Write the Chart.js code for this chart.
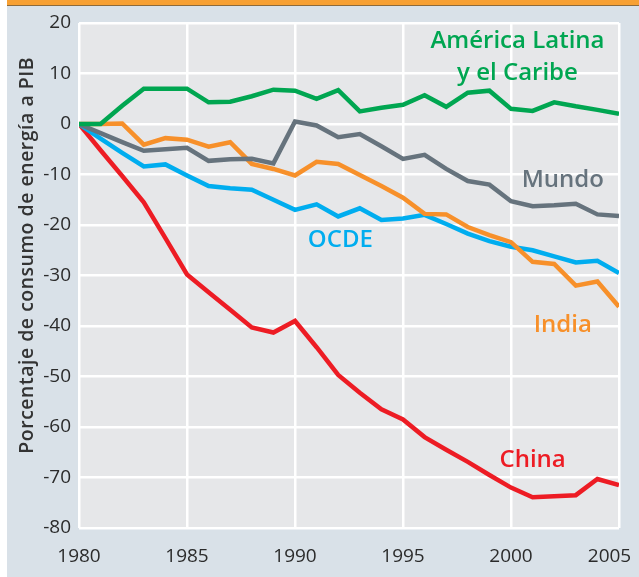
<!DOCTYPE html>
<html>
<head>
<meta charset="utf-8">
<script src="https://cdn.jsdelivr.net/npm/chart.js@4/dist/chart.umd.min.js"></script>
<style>
  body { margin: 0; background: #fff; }
  #wrap { width: 639px; height: 577px; }
</style>
</head>
<body>
<div id="wrap"><canvas id="chart" width="639" height="577"></canvas></div>
<script>
const years = [1980, 1981, 1982, 1983, 1984, 1985, 1986, 1987, 1988, 1989, 1990, 1991, 1992,
               1993, 1994, 1995, 1996, 1997, 1998, 1999, 2000, 2001, 2002, 2003, 2004, 2005];

const latam = [0, 0, 3.6, 7.0, 7.0, 7.0, 4.3, 4.4, 5.5, 6.8, 6.6, 5.0, 6.7,
               2.5, 3.2, 3.8, 5.7, 3.4, 6.2, 6.6, 3.0, 2.6, 4.3, 3.5, 2.8, 2.0];
const mundo = [0, -1.8, -3.6, -5.3, -5.0, -4.7, -7.3, -7.0, -6.9, -7.8, 0.5, -0.3, -2.6,
               -2.0, -4.4, -6.9, -6.1, -8.9, -11.3, -12.0, -15.3, -16.3, -16.1, -15.8, -17.9, -18.2];
const india = [0, 0, 0.1, -4.1, -2.8, -3.1, -4.5, -3.6, -7.9, -8.9, -10.2, -7.5, -7.9,
               -10.1, -12.3, -14.6, -17.8, -17.9, -20.4, -22.0, -23.4, -27.3, -27.7, -32.0, -31.2, -36.2];
const ocde = [0, -2.9, -5.7, -8.4, -8.0, -10.2, -12.3, -12.7, -13.0, -15.0, -17.0, -15.9, -18.3,
              -16.7, -19.0, -18.7, -18.0, -19.8, -21.7, -23.2, -24.3, -25.0, -26.2, -27.4, -27.1, -29.5];
const china = [0, -5.2, -10.3, -15.5, -22.6, -29.8, -33.3, -36.8, -40.3, -41.3, -39.0, -44.2, -49.7,
               -53.2, -56.5, -58.5, -62.0, -64.5, -66.9, -69.5, -72.0, -73.9, -73.7, -73.5, -70.3, -71.5];

const yTicks = [20, 10, 0, -10, -20, -30, -40, -50, -60, -70, -80];
const xTicks = [1980, 1985, 1990, 1995, 2000, 2005];

const yTitle = 'Porcentaje de consumo de energía a PIB';

// name labels, anchored in data units (year, value)
const seriesLabels = [
    { text: 'América Latina', year: 2000.3, value: 16.4, color: '#00a651' },
    { text: 'y el Caribe', year: 2000.3, value: 10.0, color: '#00a651' },
    { text: 'Mundo', year: 2002.4, value: -11.2, color: '#66737d' },
    { text: 'OCDE', year: 1992.1, value: -23.1, color: '#00adef' },
    { text: 'India', year: 2002.4, value: -39.9, color: '#f7902a' },
    { text: 'China', year: 2001.0, value: -66.5, color: '#ed1c24' }
];

const FONT = "'Open Sans', 'DejaVu Sans', sans-serif";

function pts(values) {
    return values.map(function (v, i) { return { x: years[i], y: v }; });
}

function line(label, values, color) {
    return {
        label: label,
        data: pts(values),
        borderColor: color,
        backgroundColor: color,
        borderWidth: 4.5,
        pointRadius: 0,
        tension: 0,
        borderJoinStyle: 'miter',
        borderCapStyle: 'butt'
    };
}

const backdrop = {
    id: 'backdrop',
    beforeDraw(chart) {
        const c = chart.ctx, a = chart.chartArea;
        c.save();
        c.fillStyle = '#ffffff';
        c.fillRect(0, 0, chart.width, chart.height);
        c.fillStyle = '#d9e1e8';
        c.fillRect(7, 6, chart.width - 7, chart.height - 6);
        c.fillStyle = '#f7a033';
        c.fillRect(7, 0, chart.width - 7, 5);
        c.fillStyle = '#8c6a3c';
        c.fillRect(7, 5, chart.width - 7, 1);
        c.fillStyle = '#e6e7e9';
        c.fillRect(a.left, a.top, a.right - a.left, a.bottom - a.top);
        c.restore();
    }
};

const textLayer = {
    id: 'textLayer',
    afterDatasetsDraw(chart) {
        const c = chart.ctx, sx = chart.scales.x, sy = chart.scales.y;
        c.save();
        c.textAlign = 'center';
        c.textBaseline = 'middle';
        c.font = '600 24px ' + FONT;
        seriesLabels.forEach(function (l) {
            c.fillStyle = l.color;
            c.fillText(l.text, sx.getPixelForValue(l.year), sy.getPixelForValue(l.value));
        });
        // y axis title
        c.translate(27, sy.getPixelForValue(-26));
        c.rotate(-Math.PI / 2);
        c.fillStyle = '#333333';
        c.font = '600 19.5px ' + FONT;
        c.letterSpacing = '0.5px';
        c.fillText(yTitle, 0, 0);
        c.restore();
    }
};

new Chart(document.getElementById('chart'), {
    type: 'line',
    data: {
        datasets: [
            line('América Latina y el Caribe', latam, '#00a651'),
            line('Mundo', mundo, '#66737d'),
            line('India', india, '#f7902a'),
            line('OCDE', ocde, '#00adef'),
            line('China', china, '#ed1c24')
        ]
    },
    options: {
        responsive: false,
        animation: false,
        layout: { padding: { top: 23, right: 20, left: 0, bottom: 0 } },
        plugins: {
            legend: { display: false },
            tooltip: { enabled: false }
        },
        scales: {
            x: {
                type: 'linear',
                min: 1980,
                max: 2005,
                afterFit: function (s) { s.height = 49; s.paddingLeft = 0; s.paddingRight = 0; },
                afterBuildTicks: function (s) { s.ticks = xTicks.map(v => ({ value: v })); },
                ticks: {
                    color: '#2b2b2b',
                    font: { family: FONT, size: 19 },
                    padding: 17,
                    maxRotation: 0,
                    // last label sits a little inside the right edge, like the original
                    callback: v => v === 2005 ? '2005\u2003' : String(v)
                },
                grid: { color: '#ffffff', lineWidth: 2.5, drawTicks: false },
                border: { display: false }
            },
            y: {
                min: -80,
                max: 20,
                afterFit: function (s) { s.width = 79; },
                afterBuildTicks: function (s) { s.ticks = yTicks.map(v => ({ value: v })); },
                ticks: {
                    color: '#2b2b2b',
                    font: { family: FONT, size: 19 },
                    padding: 8
                },
                grid: { color: '#ffffff', lineWidth: 2.5, drawTicks: false },
                border: { display: false }
            }
        }
    },
    plugins: [backdrop, textLayer]
});
</script>
</body>
</html>
